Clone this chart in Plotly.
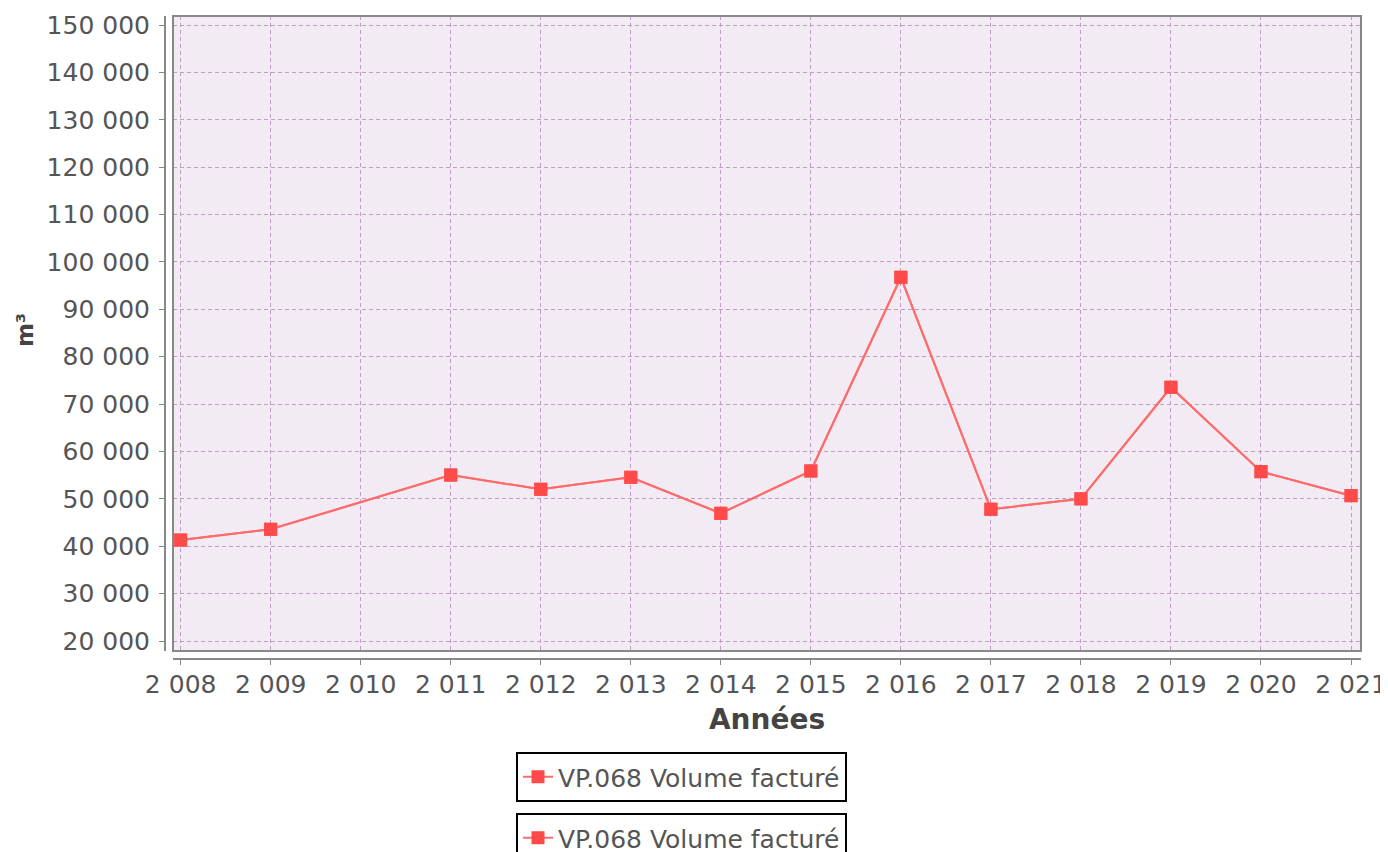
import plotly.graph_objects as go

years = [2008, 2009, 2011, 2012, 2013, 2014, 2015, 2016, 2017, 2018, 2019, 2020, 2021]
volumes = [41300, 43580, 55030, 52020, 54550, 46950, 55880, 96760, 47800, 50000, 73550, 55740, 50670]
series_name = "VP.068 Volume facturé"
x_title = "Années"
y_title = "m³"

OFF = 8  # default page body margin
W, H = 1388 - OFF, 852 - OFF
FONT = "DejaVu Sans"
TXT = "#555555"

fig = go.Figure()
for lg in ["legend", "legend2"]:
    fig.add_trace(go.Scatter(
        x=years, y=volumes, mode="lines+markers", name=series_name,
        line=dict(color="#ff6b6b", width=2),
        marker=dict(symbol="square", size=13, color="#ff4a4a"),
        legend=lg, showlegend=True,
    ))

# paper area in screen pixels: x 165..1361, y 16..659
pl, pr, pt, pb = 165 - OFF, 1361 - OFF, 16 - OFF, 659 - OFF
pw, ph = pr - pl, pb - pt
xdom0 = 8 / pw
ydom0 = 8 / ph

grid = dict(showgrid=True, gridcolor="#c09cc6", griddash="4px,3px", gridwidth=1)

fig.update_layout(
    width=W, height=H,
    margin=dict(l=pl, r=W - pr, t=pt, b=H - pb, autoexpand=False),
    paper_bgcolor="white",
    plot_bgcolor="#f3ebf3",
    separators=", ",
    font=dict(family=FONT, size=22, color=TXT),
    xaxis=dict(
        domain=[xdom0, 1], anchor="free", position=0,
        range=[2007.915, 2021.111], tickmode="linear", tick0=2008, dtick=1,
        tickformat=",d", separatethousands=True,
        showline=True, linecolor="#888888", linewidth=2,
        ticks="outside", ticklen=5, tickcolor="#888888", tickwidth=1,
        tickfont=dict(size=25, color=TXT), ticklabelstandoff=-2, zeroline=False,
        title=dict(text=x_title, font=dict(size=28, color="#444444", family=FONT, weight="bold"), standoff=10),
        **grid,
    ),
    yaxis=dict(
        domain=[ydom0, 1], anchor="free", position=0,
        range=[17890, 151900], tickmode="linear", tick0=20000, dtick=10000,
        tickformat=",d",
        showline=True, linecolor="#888888", linewidth=2,
        ticks="outside", ticklen=5, tickcolor="#888888", tickwidth=1,
        tickfont=dict(size=25, color=TXT), ticklabelstandoff=4, zeroline=False,
        **grid,
    ),
    annotations=[dict(
        text=y_title, xref="paper", yref="paper",
        x=-(pl - (25 - OFF)) / pw, y=(pb - (330 - OFF)) / ph,
        xanchor="center", yanchor="middle", textangle=-90, showarrow=False,
        font=dict(size=23, color="#444444", family=FONT, weight="bold"),
    )],
    legend=dict(
        xref="container", yref="container", x=(516 - OFF) / W, y=1 - (752 - OFF) / H,
        xanchor="left", yanchor="top",
        bordercolor="black", borderwidth=2, bgcolor="white",
        font=dict(size=25, color=TXT, family=FONT), itemwidth=30,
    ),
    legend2=dict(
        xref="container", yref="container", x=(516 - OFF) / W, y=1 - (813 - OFF) / H,
        xanchor="left", yanchor="top",
        bordercolor="black", borderwidth=2, bgcolor="white",
        font=dict(size=25, color=TXT, family=FONT), itemwidth=30,
    ),
    shapes=[dict(type="rect", xref="x domain", yref="y domain", x0=0, x1=1, y0=0, y1=1,
                 line=dict(color="#888888", width=2), layer="above")],
)

fig.write_html("out.html")
